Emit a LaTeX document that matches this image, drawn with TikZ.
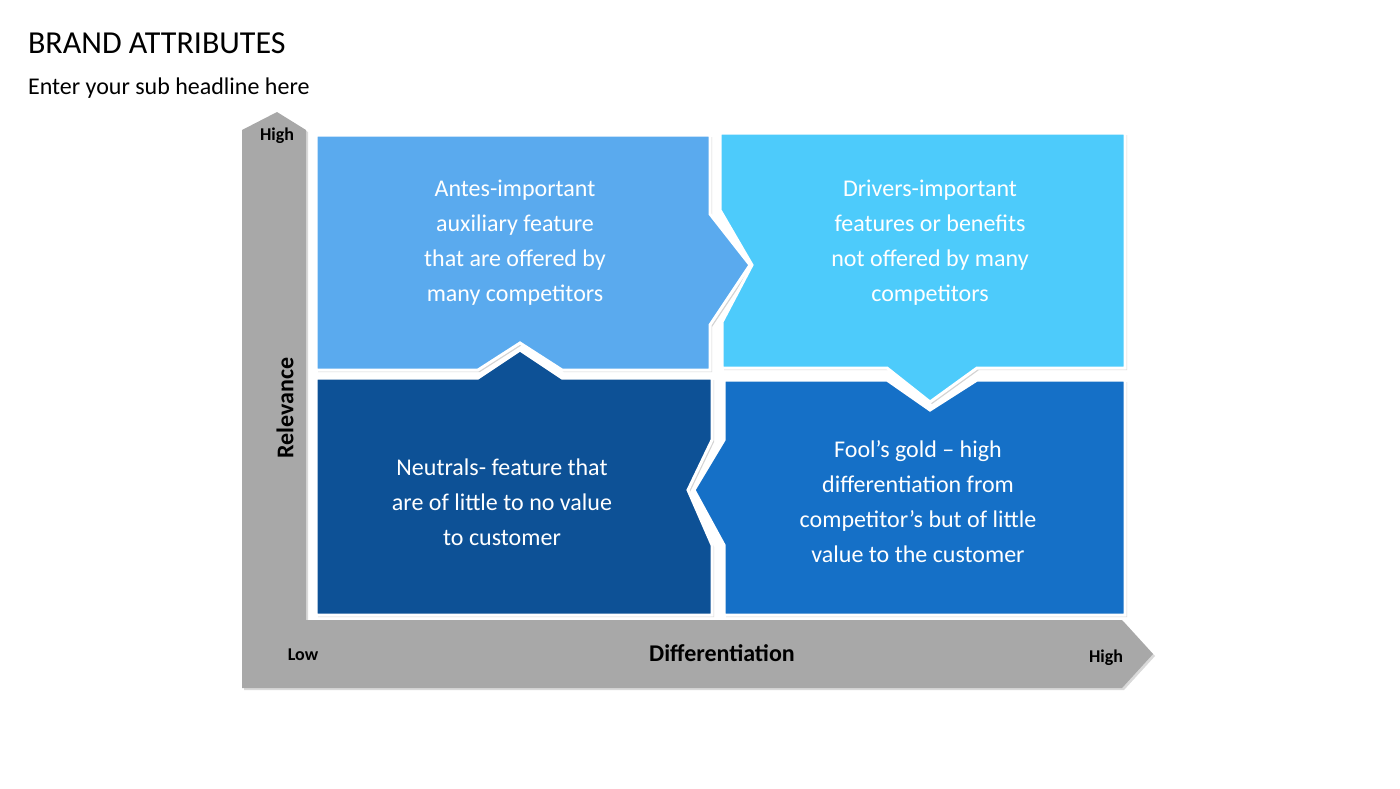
\documentclass[tikz,border=0pt]{standalone}
\usepackage{fontspec}
\setmainfont{Carlito}
\usepackage{xcolor}
\definecolor{colorante}{HTML}{5AAAEE}
\definecolor{colordriver}{HTML}{4DCBFB}
\definecolor{colorneutral}{HTML}{0D5196}
\definecolor{colorfool}{HTML}{1570C7}
\definecolor{coloraxis}{HTML}{A8A8A8}
\usetikzlibrary{shadows}
\tikzstyle{blockQ} = [draw=white, line width=1.5pt, drop shadow={opacity=0.35, shadow xshift=1pt, shadow yshift=-1pt}]
\tikzstyle{blockAxis} = [fill=coloraxis, drop shadow={opacity=0.3, shadow xshift=1pt, shadow yshift=-1pt}]
\tikzstyle{textQ} = [text=white, align=center, font=\fontsize{12}{17.5}\selectfont]
\tikzstyle{textAxis} = [font=\bfseries\fontsize{9}{10}\selectfont]

\begin{document}
\begin{tikzpicture}[x=0.5pt,y=-0.5pt]
  \useasboundingbox (0,0) rectangle (1400,788);

  %axes
  \path[blockAxis] (242,688) -- (242,130) -- (277,112) -- (306,130) -- (306,620)
    -- (1122,620) -- (1153,654) -- (1122,688) -- cycle;

  %quadrants
  \path[blockQ, fill=colorante] (316,135) -- (710,135) -- (710,214) -- (750,265)
    -- (710,325) -- (710,370) -- (562,370) -- (520,343) -- (478,370) -- (316,370) -- cycle;
  \path[blockQ, fill=colordriver] (720,133) -- (1125,133) -- (1125,368) -- (977,368)
    -- (930,402) -- (887,368) -- (722,368) -- (722,322) -- (752,265) -- (720,210) -- cycle;
  \path[blockQ, fill=colorneutral] (316,378) -- (478,378) -- (520,350) -- (562,378)
    -- (712,378) -- (712,440) -- (688,490) -- (712,545) -- (712,615) -- (316,615) -- cycle;
  \path[blockQ, fill=colorfool] (724,380) -- (887,380) -- (930,410) -- (977,380)
    -- (1125,380) -- (1125,615) -- (724,615) -- (724,545) -- (694,490) -- (724,440) -- cycle;

  \node[textQ] (ante) at (515,243) {Antes-important\\auxiliary feature\\that are offered by\\many competitors};
  \node[textQ] (driver) at (930,243) {Drivers-important\\features or benefits\\not offered by many\\competitors};
  \node[textQ] (neutral) at (502,502) {Neutrals- feature that\\are of little to no value\\to customer};
  \node[textQ] (fool) at (918,502) {Fool’s gold – high\\differentiation from\\competitor’s but of little\\value to the customer};

  \node[textAxis] (highy) at (277,136) {High};
  \node[textAxis] (lowx) at (303,655) {Low};
  \node[textAxis] (highx) at (1106,658) {High};
  \node[font=\bfseries\fontsize{12}{14}\selectfont, rotate=90] (relevance) at (285,408) {Relevance};
  \node[font=\bfseries\fontsize{12}{14}\selectfont] (differ) at (722,653) {Differentiation};

  \node[anchor=west, font=\fontsize{16}{18}\selectfont] (title) at (21,43) {BRAND ATTRIBUTES};
  \node[anchor=west, font=\fontsize{12}{14}\selectfont] (subtitle) at (21,88) {Enter your sub headline here};
\end{tikzpicture}
\end{document}
